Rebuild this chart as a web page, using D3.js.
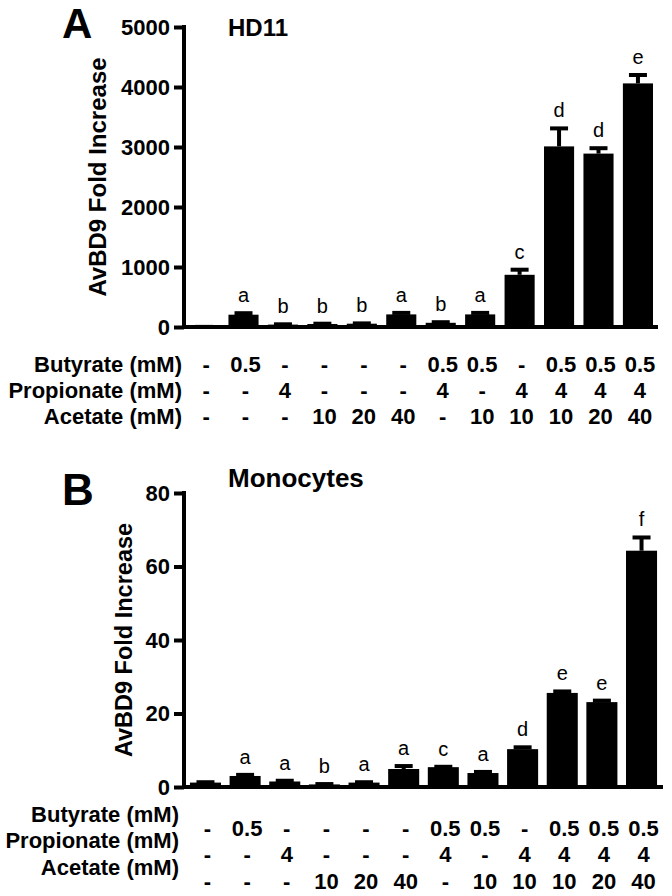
<!DOCTYPE html>
<html>
<head>
<meta charset="utf-8">
<script src="https://cdn.jsdelivr.net/npm/d3@7"></script>
<style>
  body { margin: 0; background: #fff; }
  svg { display: block; font-family: Arial, "Liberation Sans", sans-serif; }
</style>
</head>
<body>
<div id="chart"></div>
<script>
const butyrate   = ["-", "0.5", "-", "-", "-", "-", "0.5", "0.5", "-", "0.5", "0.5", "0.5"];
const propionate = ["-", "-", "4", "-", "-", "-", "4", "-", "4", "4", "4", "4"];
const acetate    = ["-", "-", "-", "10", "20", "40", "-", "10", "10", "10", "20", "40"];
const rowLabels  = ["Butyrate (mM)", "Propionate (mM)", "Acetate (mM)"];

const hd11Mean    = [1, 205, 40, 50, 55, 210, 70, 210, 870, 3010, 2890, 4060];
const hd11Err     = [1, 25, 5, 5, 5, 25, 10, 25, 85, 300, 90, 140];
const hd11Letters = ["", "a", "b", "b", "b", "a", "b", "a", "c", "d", "d", "e"];
const hd11Ticks   = [0, 1000, 2000, 3000, 4000, 5000];

const monoMean    = [1.2, 3.0, 1.5, 0.7, 1.2, 4.9, 5.4, 3.8, 10.3, 25.6, 23.1, 64.3];
const monoErr     = [0.1, 0.3, 0.2, 0.1, 0.1, 0.8, 0.1, 0.3, 0.5, 0.4, 0.4, 3.6];
const monoLetters = ["", "a", "a", "b", "a", "a", "c", "a", "d", "e", "e", "f"];
const monoTicks   = [0, 20, 40, 60, 80];

const svg = d3.select("#chart").append("svg")
    .attr("width", 672).attr("height", 896);

function panel(opt) {
    const g = svg.append("g");
    const y = d3.scaleLinear().domain([0, opt.max]).range([opt.y0, opt.y1]);
    const x = d3.scaleBand().domain(d3.range(12))
        .range([opt.axisX, opt.xEnd])
        .paddingInner(opt.pIn).paddingOuter(opt.pOut);

    // bars
    g.selectAll(".bar").data(opt.mean).enter().append("rect")
        .attr("x", (d, i) => x(i))
        .attr("width", x.bandwidth())
        .attr("y", d => y(d))
        .attr("height", d => y(0) - y(d))
        .attr("fill", "#000");

    // error bars
    const eb = g.selectAll(".err").data(opt.mean).enter().append("g");
    eb.append("line")
        .attr("x1", (d, i) => x(i) + x.bandwidth() / 2)
        .attr("x2", (d, i) => x(i) + x.bandwidth() / 2)
        .attr("y1", d => y(d))
        .attr("y2", (d, i) => y(d + opt.err[i]))
        .attr("stroke", "#000").attr("stroke-width", 4);
    eb.append("line")
        .attr("x1", (d, i) => x(i) + x.bandwidth() / 2 - 9)
        .attr("x2", (d, i) => x(i) + x.bandwidth() / 2 + 9)
        .attr("y1", (d, i) => y(d + opt.err[i]))
        .attr("y2", (d, i) => y(d + opt.err[i]))
        .attr("stroke", "#000").attr("stroke-width", 4);

    // significance letters
    g.selectAll(".sig").data(opt.letters).enter().append("text")
        .attr("x", (d, i) => x(i) + x.bandwidth() / 2)
        .attr("y", (d, i) => y(opt.mean[i] + opt.err[i]) - 11)
        .attr("text-anchor", "middle")
        .style("font-size", "20px")
        .text(d => d);

    // y axis
    const ya = g.append("g")
        .attr("transform", `translate(${opt.axisX},0)`)
        .call(d3.axisLeft(y).tickValues(opt.ticks).tickFormat(d3.format("d"))
            .tickSize(10).tickSizeOuter(0).tickPadding(4));
    ya.select(".domain").attr("stroke-width", 4).attr("d", `M0,${opt.y1 - 2}V${opt.y0 + 2}`);
    ya.selectAll(".tick line").attr("stroke-width", 4);
    ya.selectAll(".tick text")
        .style("font-size", "22px").style("font-weight", "bold")
        .style("font-family", "Arial, 'Liberation Sans', sans-serif")
        .attr("fill", "#000");

    // x axis
    g.append("line")
        .attr("x1", opt.axisX).attr("x2", opt.xEnd)
        .attr("y1", y(0)).attr("y2", y(0))
        .attr("stroke", "#000").attr("stroke-width", 4);

    // y label
    g.append("text")
        .attr("transform", `translate(${opt.labelX},${(opt.y0 + opt.y1) / 2}) rotate(-90)`)
        .attr("text-anchor", "middle").attr("dy", "0.35em")
        .style("font-size", opt.labelSize + "px").style("font-weight", "bold")
        .text("AvBD9 Fold Increase");

    // panel letter and title
    g.append("text").attr("x", 62).attr("y", opt.letterY)
        .style("font-size", opt.letterSize + "px").style("font-weight", "bold")
        .text(opt.letter);
    g.append("text").attr("x", 228).attr("y", opt.titleY)
        .style("font-size", opt.titleSize + "px").style("font-weight", "bold")
        .text(opt.title);

    // treatment table
    [butyrate, propionate, acetate].forEach((row, r) => {
        g.append("text")
            .attr("x", opt.tableLabelX).attr("y", opt.rowY[r])
            .attr("text-anchor", "end")
            .style("font-size", "22px").style("font-weight", "bold")
            .text(rowLabels[r]);
        g.selectAll(".cell" + r).data(row).enter().append("text")
            .attr("x", (d, i) => x(i) + x.bandwidth() / 2 + 2)
            .attr("y", opt.rowY[r] + opt.valOffset)
            .attr("text-anchor", "middle")
            .style("font-size", "22px").style("font-weight", "bold")
            .text(d => d);
    });
}

panel({
    mean: hd11Mean, err: hd11Err, letters: hd11Letters, ticks: hd11Ticks, max: 5000,
    y0: 327, y1: 27, axisX: 184, xEnd: 658, pIn: 0.237, pOut: 0.127,
    labelX: 98, labelSize: 24,
    letter: "A", letterY: 38, letterSize: 42,
    title: "HD11", titleY: 36, titleSize: 24,
    tableLabelX: 182, rowY: [372, 398, 424], valOffset: 0
});

panel({
    mean: monoMean, err: monoErr, letters: monoLetters, ticks: monoTicks, max: 80,
    y0: 787, y1: 493, axisX: 184, xEnd: 663, pIn: 0.217, pOut: 0.15,
    labelX: 124, labelSize: 23.5,
    letter: "B", letterY: 505, letterSize: 44,
    title: "Monocytes", titleY: 487, titleSize: 26,
    tableLabelX: 179, rowY: [822, 848, 875], valOffset: 14
});
</script>
</body>
</html>
